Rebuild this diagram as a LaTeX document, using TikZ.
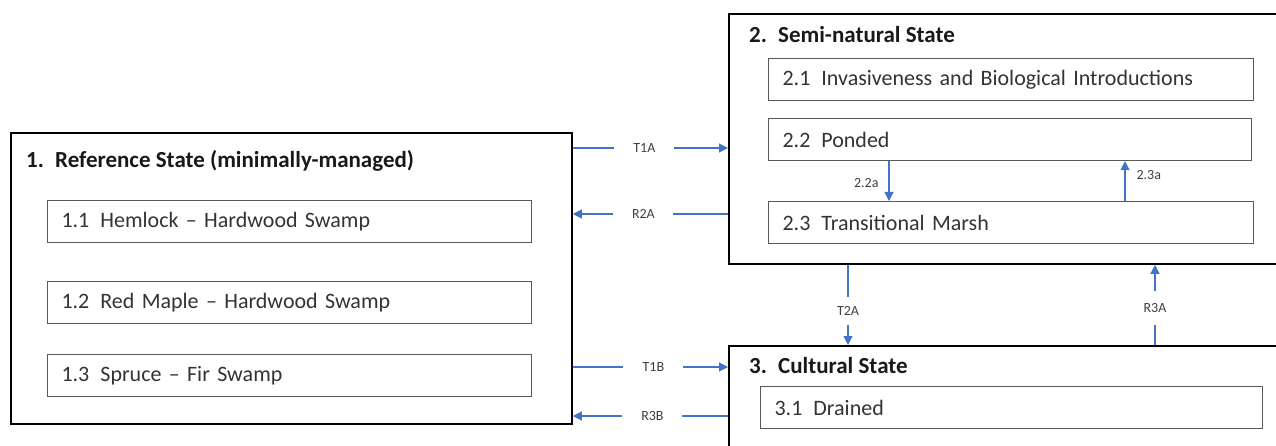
\documentclass[tikz,border=0pt]{standalone}
\usepackage{fontspec}
\setmainfont{Carlito}
\usetikzlibrary{arrows.meta}
\definecolor{arrblue}{HTML}{4472C4}
\definecolor{boxgray}{HTML}{595959}
\tikzset{
  outerbox/.style={draw=black, line width=1.8pt, anchor=north west, inner sep=0pt},
  innerbox/.style={draw=boxgray, line width=1.1pt, anchor=north west, minimum height=42pt,
    inner xsep=14pt, inner ysep=0pt, align=left, font=\fontsize{22}{24}\selectfont, text=black!80},
  title/.style={anchor=west, inner sep=0pt, font=\fontsize{23}{25}\selectfont\bfseries, text=black!90},
  arr/.style={draw=arrblue, line width=1.1pt, -{Triangle[width=9pt,length=9pt]}},
  lbl/.style={fill=white, inner sep=0pt, minimum width=60pt, minimum height=14pt, text=black!75, font=\fontsize{14}{15}\selectfont},
  slbl/.style={inner sep=0pt, text=black!75, font=\fontsize{14}{15}\selectfont},
}
\newcommand{\numlbl}[1]{\makebox[29pt][l]{#1}}
\newcommand{\subgap}{\hspace{0.5em}}
\begin{document}
\begin{tikzpicture}[x=1pt,y=-1pt]
\useasboundingbox (0,0) rectangle (1276,446);
\clip (0,0) rectangle (1276,446);
% outer boxes
\node[outerbox, minimum width=561pt, minimum height=291pt] (b1) at (10,132) {};
\node[outerbox, minimum width=570pt, minimum height=250pt] (b2) at (728,13) {};
\node[outerbox, minimum width=570pt, minimum height=120pt] (b3) at (728,345) {};
% titles
\node[title] (t1) at (26,161) {\numlbl{1.}Reference State (minimally-managed)};
\node[title] (t2) at (749,35) {\numlbl{2.}Semi-natural State};
\node[title] (t3) at (749,366) {\numlbl{3.}Cultural State};
% inner boxes
\node[innerbox, text width=456pt] (s11) at (47,200) {1.1\subgap Hemlock -- Hardwood Swamp};
\node[innerbox, text width=456pt] (s12) at (47,281) {1.2\subgap Red Maple -- Hardwood Swamp};
\node[innerbox, text width=456pt] (s13) at (47,354) {1.3\subgap Spruce -- Fir Swamp};
\node[innerbox, text width=457pt] (s21) at (768,58) {2.1\subgap Invasiveness and Biological Introductions};
\node[innerbox, text width=455pt] (s22) at (768,118) {2.2\subgap Ponded};
\node[innerbox, text width=457pt] (s23) at (768,201) {2.3\subgap Transitional Marsh};
\node[innerbox, text width=474pt] (s31) at (760,386) {3.1\subgap Drained};
% helper coordinates
\coordinate (yT1A) at (0,148);
\coordinate (yR2A) at (0,214);
\coordinate (yT1B) at (0,367);
\coordinate (yR3B) at (0,416);
\coordinate (xT2A) at (848,0);
\coordinate (xR3A) at (1155,0);
\coordinate (x22a) at (889,0);
\coordinate (x23a) at (1125,0);
% connectors
\draw[arr] (b1.east |- yT1A) -- node[lbl, xshift=-6pt]{T1A} (b2.west |- yT1A);
\draw[arr] (b2.west |- yR2A) -- node[lbl, xshift=-7pt]{R2A} (b1.east |- yR2A);
\draw[arr] (b1.east |- yT1B) -- node[lbl, xshift=3pt]{T1B} (b3.west |- yT1B);
\draw[arr] (b3.west |- yR3B) -- node[lbl, xshift=2pt]{R3B} (b1.east |- yR3B);
\draw[arr] (xT2A |- b2.south) -- node[lbl, minimum width=26pt, minimum height=28pt, yshift=-6pt]{T2A} (xT2A |- b3.north);
\draw[arr] (xR3A |- b3.north) -- node[lbl, minimum width=26pt, minimum height=34pt, yshift=-3pt]{R3A} (xR3A |- b2.south);
\draw[arr] (x22a |- s22.south) -- node[slbl, left=10pt, yshift=-2pt]{2.2a} (x22a |- s23.north);
\draw[arr] (x23a |- s23.north) -- node[slbl, right=11pt, yshift=6pt]{2.3a} (x23a |- s22.south);
\end{tikzpicture}
\end{document}
